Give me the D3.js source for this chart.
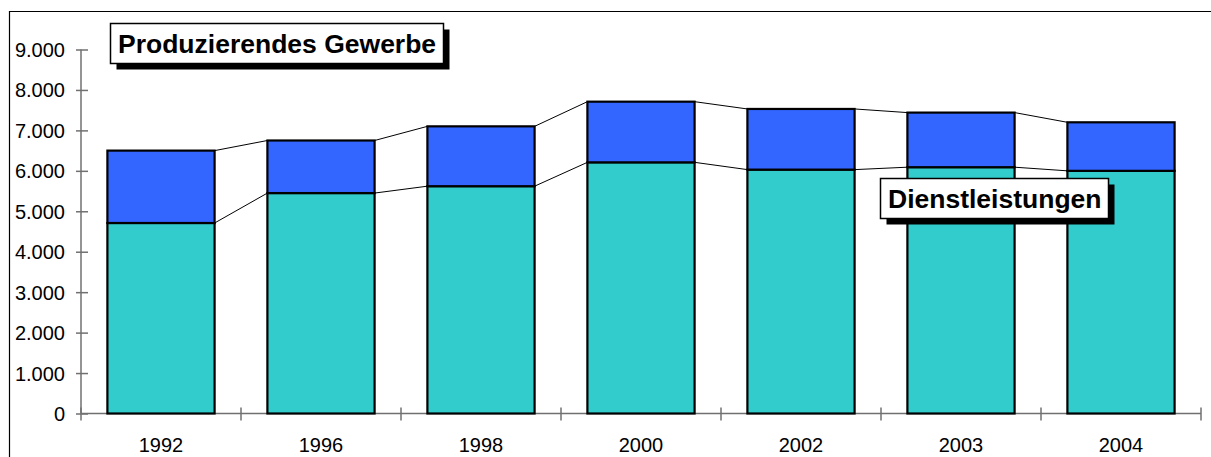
<!DOCTYPE html>
<html>
<head>
<meta charset="utf-8">
<script src="https://cdn.jsdelivr.net/npm/d3@7/dist/d3.min.js"></script>
<style>
  html, body { margin: 0; padding: 0; background: #fff; }
  svg { display: block; font-family: Arial, "Liberation Sans", sans-serif; }
</style>
</head>
<body>
<svg id="chart" width="1211" height="457"></svg>
<script>
// Erwerbstätige nach Sektoren (Tsd.)
const years = ["1992", "1996", "1998", "2000", "2002", "2003", "2004"];
const dienstleistungen = [4710, 5450, 5620, 6210, 6030, 6090, 6000];
const produzierendes = [1790, 1300, 1480, 1500, 1500, 1350, 1200];
const yTicks = [0, 1000, 2000, 3000, 4000, 5000, 6000, 7000, 8000, 9000];

const svg = d3.select("#chart");
const fmt = d3.formatLocale({ decimal: ",", thousands: ".", grouping: [3], currency: ["", "€"] }).format(",d");

const x = d3.scaleBand().domain(years).range([81, 1201]).paddingInner(0.33).paddingOuter(0.165);
const y = d3.scaleLinear().domain([0, 9000]).range([413.5, 49.5]);

// outer frame (top and left edges)
svg.append("path")
  .attr("d", "M9.5,457 L9.5,11.5 L1211,11.5")
  .attr("fill", "none").attr("stroke", "#000").attr("stroke-width", 1.2);

const rows = years.map((yr, i) => ({
  year: yr,
  low: dienstleistungen[i],
  total: dienstleistungen[i] + produzierendes[i]
}));

// connector lines between neighbouring bars
const conn = svg.append("g").attr("stroke", "#000").attr("stroke-width", 1);
for (let i = 0; i < rows.length - 1; i++) {
  const a = rows[i], b = rows[i + 1];
  const x1 = x(a.year) + x.bandwidth(), x2 = x(b.year);
  conn.append("line").attr("x1", x1).attr("x2", x2).attr("y1", y(a.total)).attr("y2", y(b.total));
  conn.append("line").attr("x1", x1).attr("x2", x2).attr("y1", y(a.low)).attr("y2", y(b.low));
}

// axes
const yAxis = svg.append("g").attr("transform", "translate(81,0)")
  .call(d3.axisLeft(y).tickValues(yTicks).tickFormat(fmt).tickSizeInner(5).tickSizeOuter(0));
yAxis.selectAll(".tick line").attr("x1", -5).attr("x2", 7);
yAxis.select(".domain").attr("d", `M0,${y(9000)}V${y(0)}`);

const xAxis = svg.append("g").attr("transform", `translate(0,${y(0)})`)
  .call(d3.axisBottom(x).tickSize(0).tickSizeOuter(0));
xAxis.select(".domain").attr("d", "M81,0H1201");
xAxis.selectAll(".tick line").remove();
// category boundary ticks
const bounds = d3.range(years.length + 1).map(i => 81 + i * x.step());
xAxis.selectAll("line.b").data(bounds).join("line").attr("class", "b")
  .attr("x1", d => d).attr("x2", d => d).attr("y1", -6).attr("y2", 7);

[yAxis, xAxis].forEach(g => {
  g.selectAll(".domain, line").attr("stroke", "#707070").attr("stroke-width", 1.5);
  g.selectAll("text").attr("fill", "#000").attr("font-family", "Arial, 'Liberation Sans', sans-serif");
});
yAxis.selectAll("text").attr("font-size", 20).attr("x", -16).attr("dy", "0.35em");
xAxis.selectAll("text").attr("font-size", 20).attr("y", 38).attr("dy", 0);

// stacked bars
const bars = svg.append("g").attr("stroke", "#000").attr("stroke-width", 2.2);
bars.selectAll("rect.low").data(rows).join("rect").attr("class", "low")
  .attr("x", d => x(d.year)).attr("width", x.bandwidth())
  .attr("y", d => y(d.low)).attr("height", d => y(0) - y(d.low))
  .attr("fill", "#33CCCC");
bars.selectAll("rect.high").data(rows).join("rect").attr("class", "high")
  .attr("x", d => x(d.year)).attr("width", x.bandwidth())
  .attr("y", d => y(d.total)).attr("height", d => y(d.low) - y(d.total))
  .attr("fill", "#3366FF");

// series labels with drop shadow
function label(text, bx, by, bw, bh) {
  const g = svg.append("g");
  g.append("rect").attr("x", bx + 6).attr("y", by + 6).attr("width", bw).attr("height", bh).attr("fill", "#000");
  g.append("rect").attr("x", bx).attr("y", by).attr("width", bw).attr("height", bh)
    .attr("fill", "#fff").attr("stroke", "#000").attr("stroke-width", 1.5);
  g.append("text").attr("x", bx + 7.5).attr("y", by + 29.5)
    .attr("font-size", 26.5).attr("font-weight", "bold").attr("fill", "#000").text(text);
}
label("Produzierendes Gewerbe", 110.5, 23.5, 333, 40);
label("Dienstleistungen", 880.5, 178.5, 228, 40);
</script>
</body>
</html>
